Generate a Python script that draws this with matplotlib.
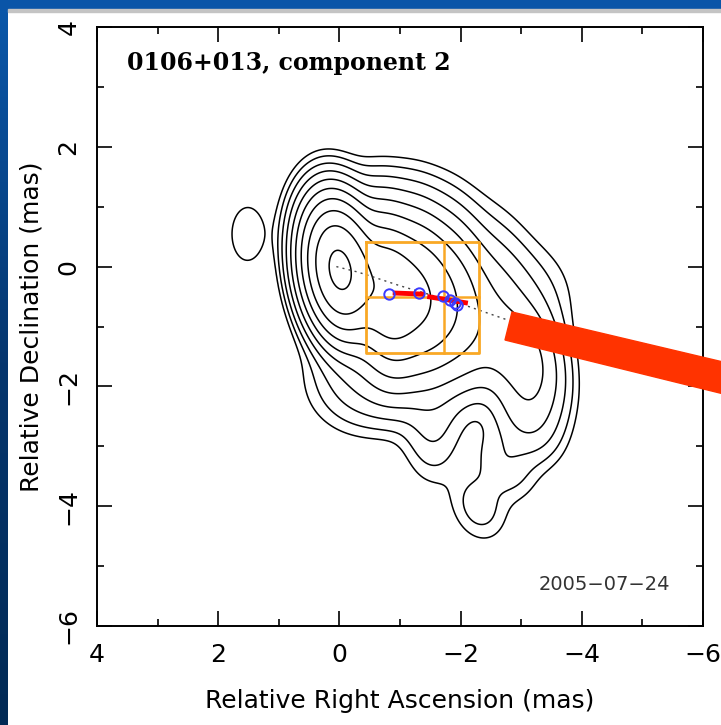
import numpy as np
import matplotlib
matplotlib.use("Agg")
import matplotlib.pyplot as plt
from matplotlib.patches import Polygon, Rectangle
from matplotlib.ticker import MultipleLocator

# gaussian components: RA, Dec (mas), peak, sigma_x, sigma_y, tilt (deg)
comp_ra  = [0.00, -0.80, -1.35, -1.85, -2.45, -0.70, -0.80, -2.00, -3.20, -3.15, -3.05, -2.70, -2.30, -1.55, 1.52, -2.75]
comp_dec = [-0.05, -0.45, -0.50, -0.60, -0.75, -1.75, 0.90, 0.40, -0.50, -1.75, -2.55, -3.30, -4.00, -2.65, 0.54, -1.30]
comp_amp = [600, 210, 100, 45, 12, 10, 3, 1.0, 2.0, 16, 6, 3, 2.8, 4, 1.9, 10]
comp_sx  = [0.29, 0.30, 0.30, 0.32, 0.40, 0.60, 0.80, 0.60, 0.45, 0.33, 0.32, 0.28, 0.28, 0.30, 0.22, 0.40]
comp_sy  = [0.56, 0.65, 0.68, 0.70, 0.70, 0.50, 0.50, 0.50, 0.55, 0.55, 0.45, 0.40, 0.38, 0.55, 0.38, 0.45]
comp_pa  = [8, 5, 5, 5, 0, 20, 0, 0, 0, 10, 20, 30, 20, 0, 0, 0]

levels = [1, 2, 4, 8, 16, 32, 64, 128, 256, 512]

# model-fit components (blue circles) and their motion (red)
fit_ra  = [-0.82, -1.31, -1.71, -1.83, -1.90, -1.94]
fit_dec = [-0.46, -0.44, -0.49, -0.56, -0.60, -0.64]
vec_ra  = [[-0.88, -1.40], [-1.45, -2.12]]
vec_dec = [[-0.44, -0.46], [-0.50, -0.61]]
track_ra  = [0.05, -0.30, -0.55, -1.00, -2.00, -2.80]
track_dec = [0.00, -0.09, -0.17, -0.32, -0.62, -0.90]

# orange box
box_ra  = [-0.44, -2.30]
box_dec = [0.41, -1.44]
box_mid_ra, box_mid_dec = -1.73, -0.51

W, H = 721, 725
fig = plt.figure(figsize=(W / 100, H / 100), dpi=100)
fig.patch.set_facecolor("white")

# slide decoration
grad = fig.add_axes([0, 0, 8 / W, 1])
grad.imshow(np.linspace(0, 1, 256)[:, None], aspect="auto",
            cmap=matplotlib.colors.LinearSegmentedColormap.from_list("b", ["#0a58ab", "#06366e", "#022a55"]))
grad.axis("off")
fig.add_artist(Rectangle((0, 1 - 9 / H), 1, 9 / H, transform=fig.transFigure, color="#0a55a8"))
fig.add_artist(Rectangle((8 / W, 1 - 12 / H), 1, 3 / H, transform=fig.transFigure, color="#c4c4c4"))

ax = fig.add_axes([97 / W, 1 - 626 / H, 606 / W, 599 / H])

x = np.linspace(4, -6, 500)
y = np.linspace(-6, 4, 500)
X, Y = np.meshgrid(x, y)
Z = np.zeros_like(X)
for ra, dec, a, sx, sy, pa in zip(comp_ra, comp_dec, comp_amp, comp_sx, comp_sy, comp_pa):
    t = np.radians(pa)
    u = (X - ra) * np.cos(t) - (Y - dec) * np.sin(t)
    v = (X - ra) * np.sin(t) + (Y - dec) * np.cos(t)
    Z += a * np.exp(-(u ** 2 / (2 * sx ** 2) + v ** 2 / (2 * sy ** 2)))

ax.contour(X, Y, Z, levels=levels, colors="black", linewidths=1.1, linestyles="solid")

ax.plot(track_ra, track_dec, ls=(0, (1.5, 3)), color="#444444", lw=1.0)
ax.plot([box_ra[0], box_ra[1], box_ra[1], box_ra[0], box_ra[0]],
        [box_dec[0], box_dec[0], box_dec[1], box_dec[1], box_dec[0]], color="#f9a825", lw=2)
ax.plot([box_mid_ra, box_mid_ra], box_dec, color="#f9a825", lw=1.8)
ax.plot(box_ra, [box_mid_dec, box_mid_dec], color="#f9a825", lw=1.8)
for vr, vd in zip(vec_ra, vec_dec):
    ax.plot(vr, vd, color="#ff0000", lw=3.5, solid_capstyle="butt")
ax.plot(fit_ra, fit_dec, "o", ms=7.5, mfc="none", mec="#3a3aff", mew=1.4)

ax.set_xlim(4, -6)
ax.set_ylim(-6, 4)
ax.xaxis.set_major_locator(MultipleLocator(2))
ax.xaxis.set_minor_locator(MultipleLocator(1))
ax.yaxis.set_major_locator(MultipleLocator(2))
ax.yaxis.set_minor_locator(MultipleLocator(1))
ax.tick_params(which="both", direction="in", top=True, right=True, width=1.2)
ax.tick_params(which="major", length=11, labelsize=18)
ax.tick_params(which="minor", length=5)
ax.tick_params(axis="x", pad=12)
ax.tick_params(axis="y", pad=12)
for lab in ax.get_yticklabels():
    lab.set_rotation(90)
    lab.set_va("center")
for s in ax.spines.values():
    s.set_linewidth(1.4)

ax.set_xlabel("Relative Right Ascension (mas)", fontsize=18, labelpad=16)
ax.set_ylabel("Relative Declination (mas)", fontsize=18, labelpad=9)

ax.text(0.05, 0.94, "0106+013, component 2", transform=ax.transAxes, fontsize=17,
        family="DejaVu Serif", weight="bold", va="center", ha="left")
ax.text(0.945, 0.07, "2005\u221207\u221224", transform=ax.transAxes, fontsize=14,
        color="#333333", va="center", ha="right")

# thick red pointer
pts = [(512, 312), (505, 340), (740, 398), (740, 366)]
fig.add_artist(Polygon([(px / W, 1 - py / H) for px, py in pts], closed=True,
                       transform=fig.transFigure, color="#ff3300", zorder=10))

fig.savefig("out.png", dpi=100)
